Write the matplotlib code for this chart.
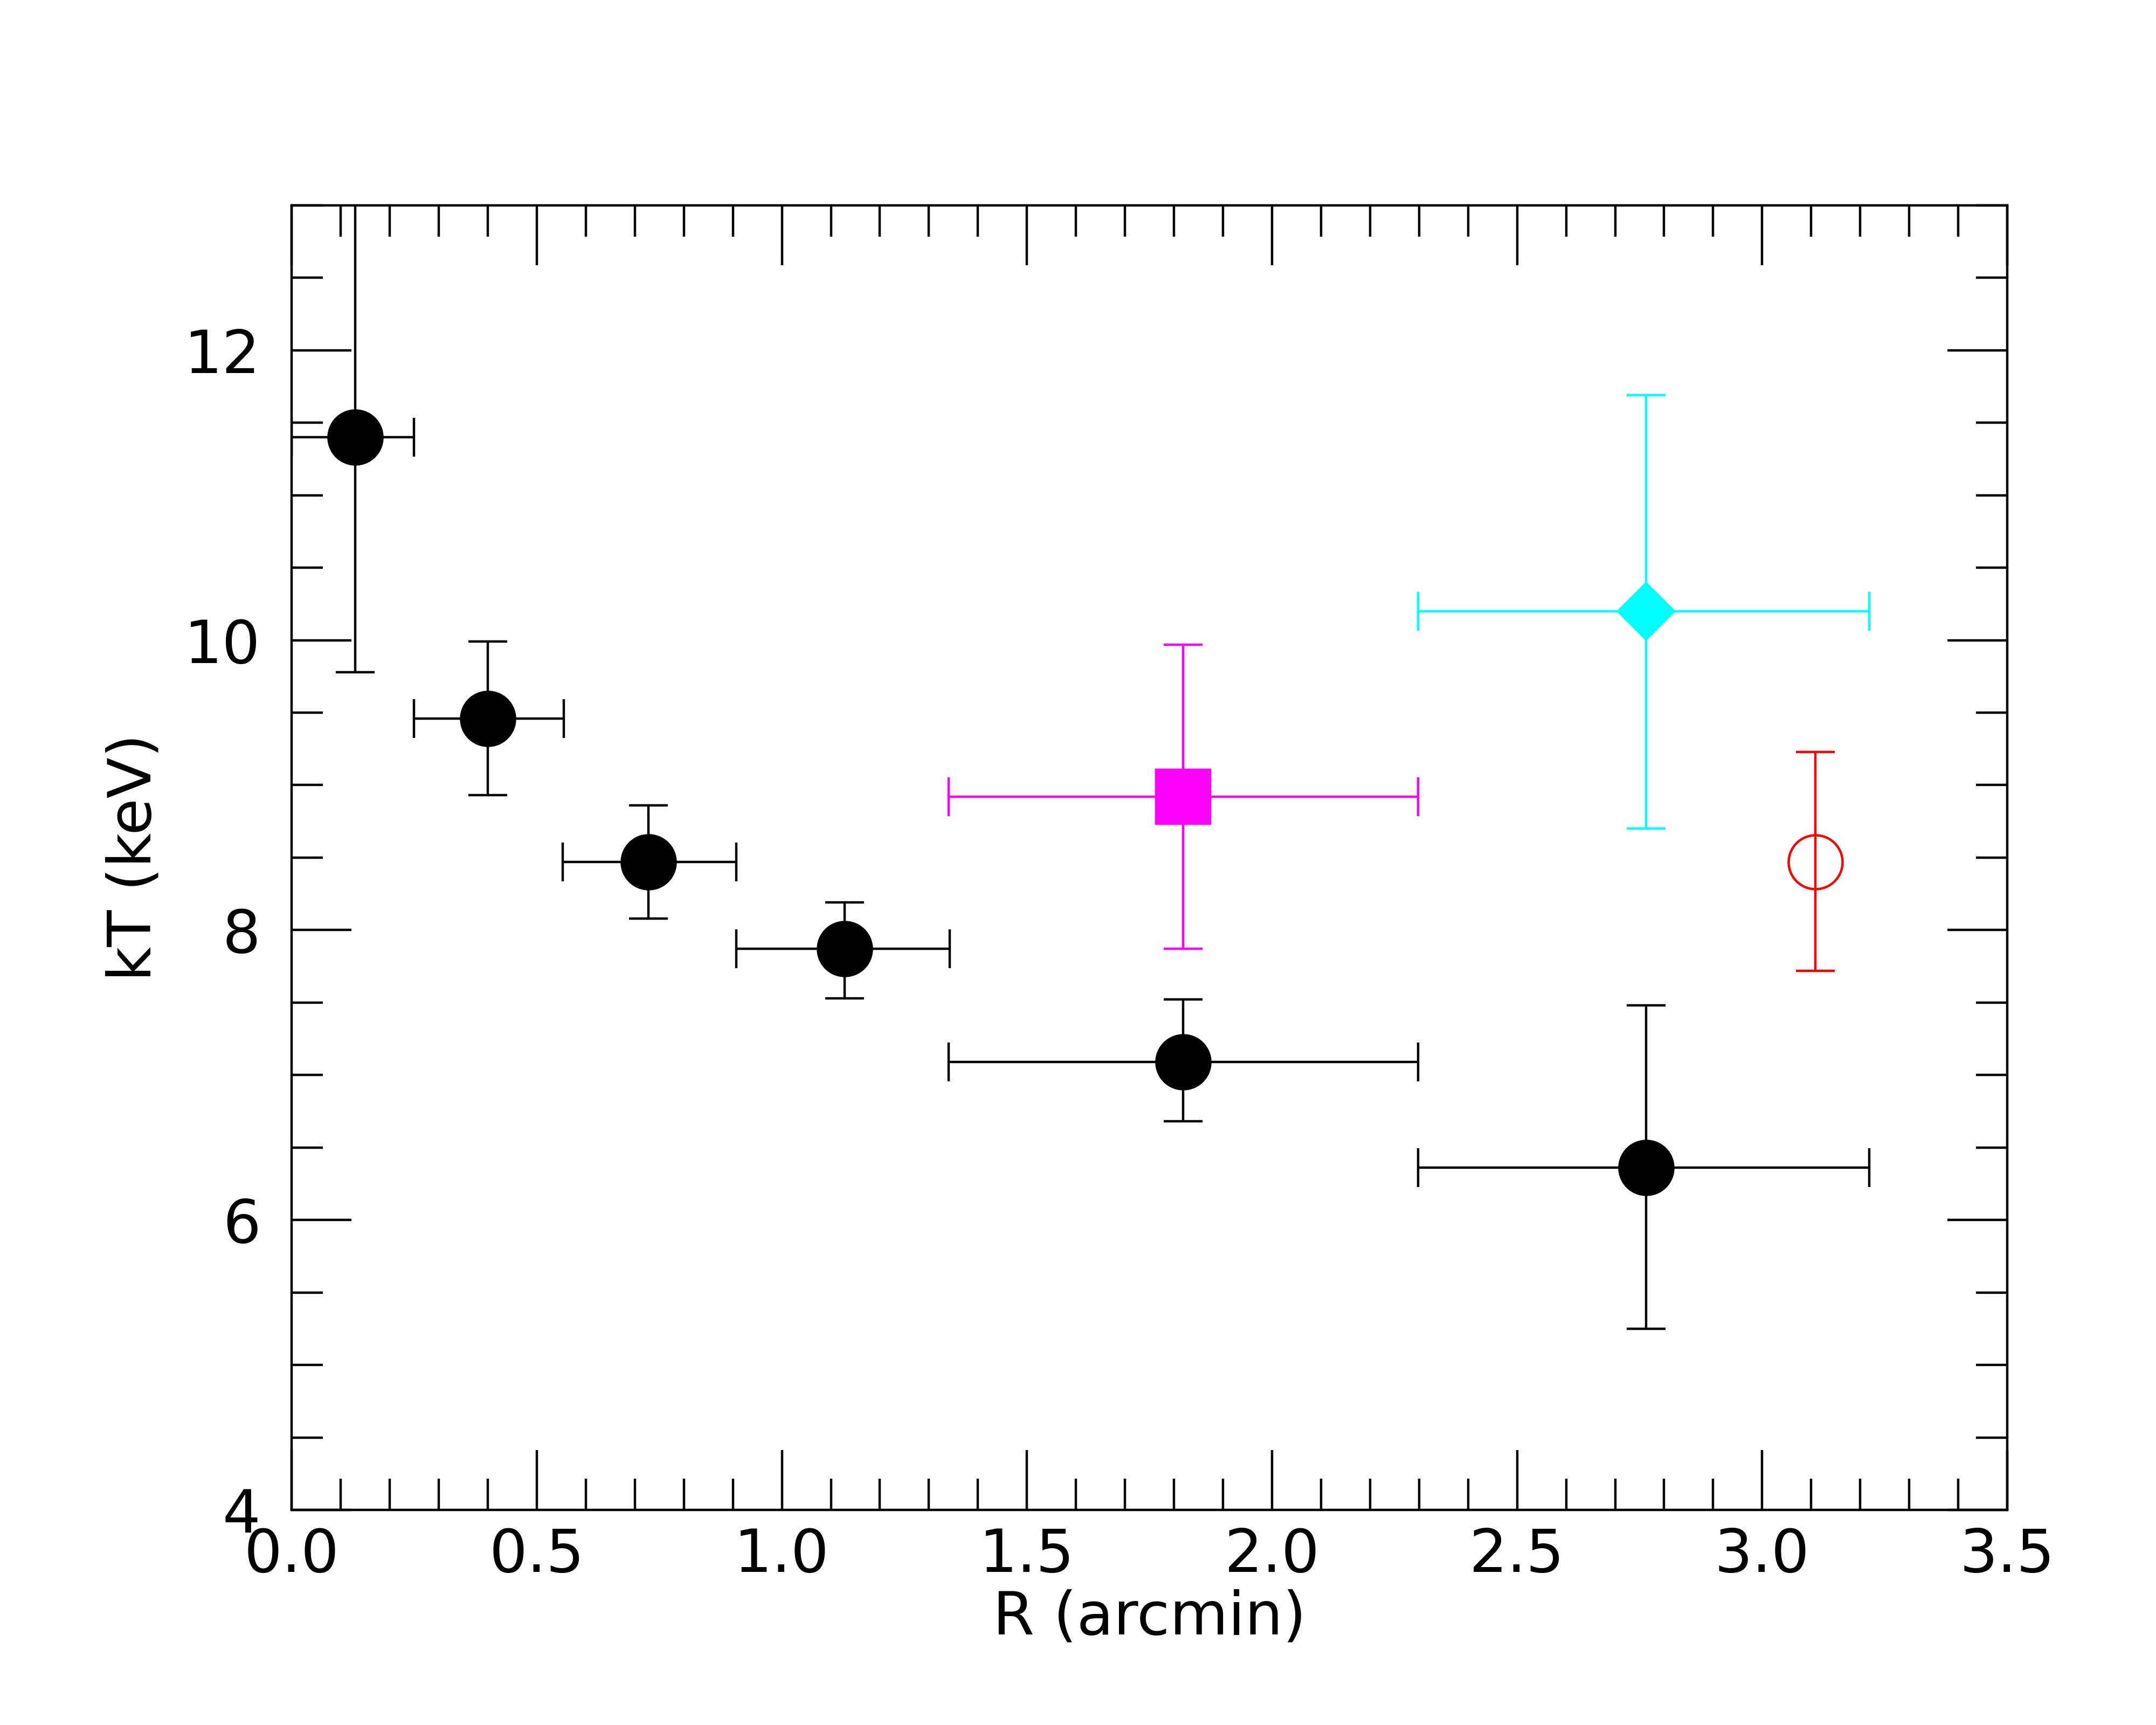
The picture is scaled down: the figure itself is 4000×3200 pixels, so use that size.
import numpy as np
import matplotlib
matplotlib.use("Agg")
import matplotlib.pyplot as plt
from matplotlib.ticker import MultipleLocator

# black points (main annuli)
r_black = [0.13, 0.40, 0.728, 1.128, 1.819, 2.763]
r_lo = [0.0, 0.249, 0.553, 0.907, 1.340, 2.298]
r_hi = [0.249, 0.555, 0.907, 1.343, 2.298, 3.219]
kt_black = [11.40, 9.46, 8.47, 7.87, 7.09, 6.36]
kt_lo = [9.78, 8.93, 8.08, 7.53, 6.68, 5.25]
kt_hi = [13.6, 9.99, 8.86, 8.19, 7.52, 7.48]

# magenta square
r_mag, r_mag_lo, r_mag_hi = [1.819], [1.340], [2.298]
kt_mag, kt_mag_lo, kt_mag_hi = [8.92], [7.87], [9.97]

# cyan diamond
r_cyan, r_cyan_lo, r_cyan_hi = [2.763], [2.298], [3.219]
kt_cyan, kt_cyan_lo, kt_cyan_hi = [10.20], [8.70], [11.69]

# red open circle
r_red = [3.108]
kt_red, kt_red_lo, kt_red_hi = [8.47], [7.72], [9.23]


def errs(c, lo, hi):
    c, lo, hi = np.array(c), np.array(lo), np.array(hi)
    return np.vstack([c - lo, hi - c])


fig = plt.figure(figsize=(12.5, 10), dpi=320)
ax = fig.add_axes([0.1353, 0.1247, 0.7957, 0.7563])

lw = 1.0
cap = 8.2

ax.errorbar(r_black, kt_black, xerr=errs(r_black, r_lo, r_hi), yerr=errs(kt_black, kt_lo, kt_hi),
            fmt='o', color='black', ms=22.5, elinewidth=lw, capsize=cap, capthick=lw, zorder=3)
ax.errorbar(r_mag, kt_mag, xerr=errs(r_mag, r_mag_lo, r_mag_hi), yerr=errs(kt_mag, kt_mag_lo, kt_mag_hi),
            fmt='s', color='magenta', ms=22.5, elinewidth=lw, capsize=cap, capthick=lw, zorder=3)
ax.errorbar(r_cyan, kt_cyan, xerr=errs(r_cyan, r_cyan_lo, r_cyan_hi), yerr=errs(kt_cyan, kt_cyan_lo, kt_cyan_hi),
            fmt='D', color='cyan', ms=16.5, elinewidth=lw, capsize=cap, capthick=lw, zorder=3)
ax.errorbar(r_red, kt_red, yerr=errs(kt_red, kt_red_lo, kt_red_hi),
            fmt='o', color='red', mfc='none', mew=lw, ms=22.5, elinewidth=lw, capsize=cap, capthick=lw, zorder=3)

ax.set_xlim(0, 3.5)
ax.set_ylim(4, 13)
ax.xaxis.set_major_locator(MultipleLocator(0.5))
ax.xaxis.set_minor_locator(MultipleLocator(0.1))
ax.yaxis.set_major_locator(MultipleLocator(2))
ax.yaxis.set_minor_locator(MultipleLocator(0.5))

ax.tick_params(which='both', direction='in', top=True, right=True, width=lw, labelsize=25)
ax.tick_params(which='major', length=25)
ax.tick_params(which='minor', length=13)
ax.tick_params(axis='y', which='major', pad=13)
ax.tick_params(axis='x', which='major', pad=7)
for s in ax.spines.values():
    s.set_linewidth(lw)

ax.set_xlabel("R (arcmin)", fontsize=25, labelpad=2)
ax.set_ylabel("kT (keV)", fontsize=25, labelpad=9)

fig.savefig("out.png", dpi=320)
